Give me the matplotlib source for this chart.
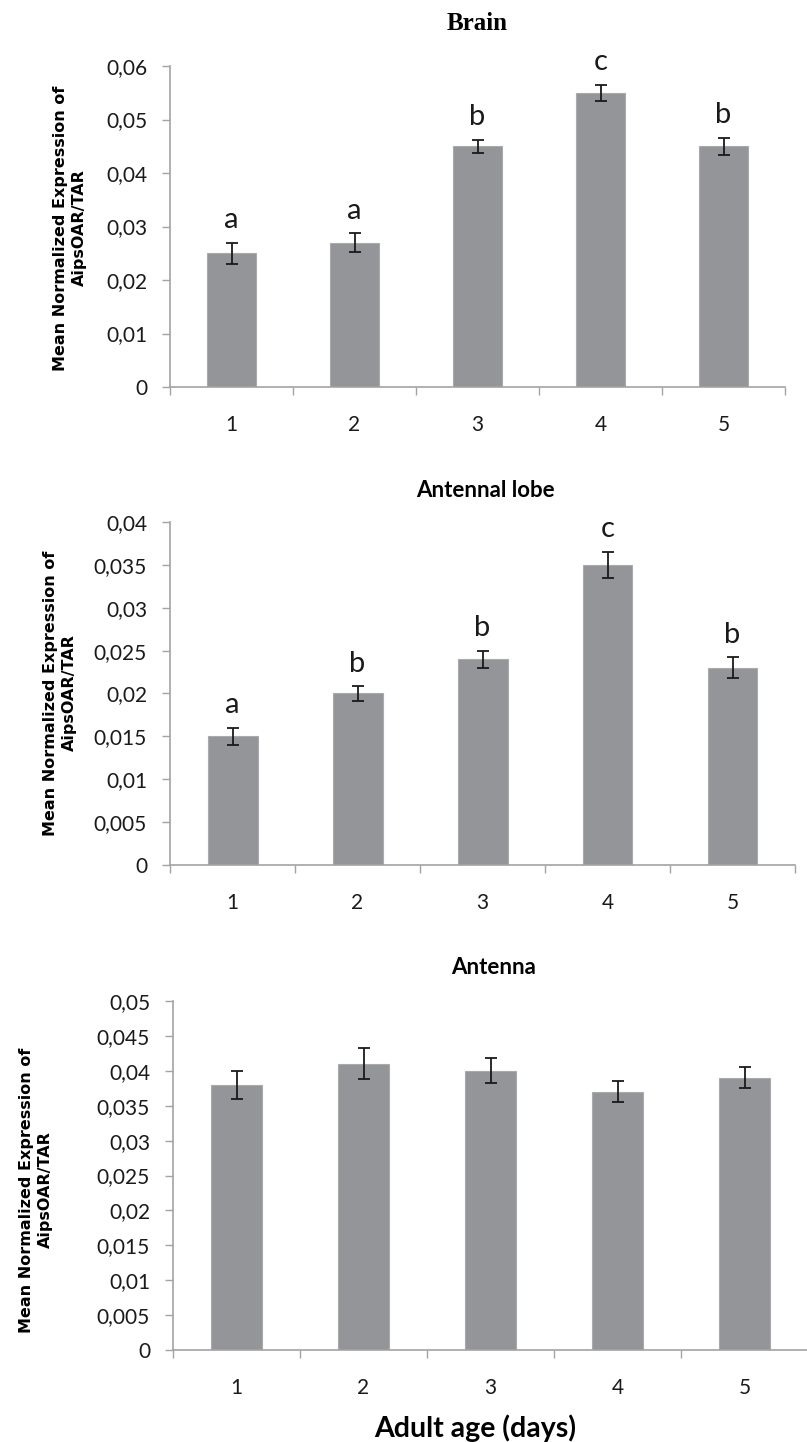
import matplotlib
matplotlib.use("Agg")
import matplotlib.pyplot as plt
from matplotlib.ticker import MultipleLocator, FuncFormatter

# data
days = [1, 2, 3, 4, 5]
day_labels = ["1", "2", "3", "4", "5"]

brain_mean = [0.025, 0.027, 0.045, 0.055, 0.045]
brain_err = [0.002, 0.0017, 0.0012, 0.0015, 0.0016]
brain_letters = ["a", "a", "b", "c", "b"]

lobe_mean = [0.015, 0.020, 0.024, 0.035, 0.023]
lobe_err = [0.001, 0.00085, 0.001, 0.0015, 0.0012]
lobe_letters = ["a", "b", "b", "c", "b"]

antenna_mean = [0.038, 0.041, 0.040, 0.037, 0.039]
antenna_err = [0.002, 0.0022, 0.0018, 0.0015, 0.0015]

ylabel_text = "Mean Normalized Expression of\nAipsOAR/TAR"

BAR_COLOR = "#939598"
AXIS_COLOR = "#a3a3a3"

W, H = 807, 1442
fig = plt.figure(figsize=(W / 100, H / 100), dpi=100)


def fig_rect(left, top, right, bottom):
    """Pixel box -> figure fraction [l, b, w, h]."""
    return [left / W, 1 - bottom / H, (right - left) / W, (bottom - top) / H]


def comma_fmt(v, pos):
    if abs(v) < 1e-12:
        return "0"
    return f"{v:g}".replace(".", ",")


def draw_panel(ax, means, errs, ymax, step, letters=None):
    ax.bar(days, means, width=0.4, color=BAR_COLOR, edgecolor="#a9aaac",
           linewidth=0.8, zorder=2)
    ax.errorbar(days, means, yerr=errs, fmt="none", ecolor="#1a1a1a",
                elinewidth=1.3, capsize=4, capthick=1.3, zorder=3)

    if letters:
        for x, m, e, lab in zip(days, means, errs, letters):
            ax.annotate(lab, (x, m + e), xytext=(0, 10.5), textcoords="offset points",
                        ha="center", va="baseline", fontsize=21, family="Lato",
                        color="#1a1a1a")

    ax.set_xlim(0.5, 5.5)
    ax.set_ylim(0, ymax)
    ax.yaxis.set_major_locator(MultipleLocator(step))
    ax.yaxis.set_major_formatter(FuncFormatter(comma_fmt))

    # ticks between categories, labels under the bars
    ax.set_xticks([0.5, 1.5, 2.5, 3.5, 4.5, 5.5])
    ax.set_xticklabels([])
    ax.set_xticks(days, minor=True)
    ax.set_xticklabels(day_labels, minor=True)
    ax.tick_params(axis="x", which="major", direction="out", length=5.5,
                   width=1, color=AXIS_COLOR)
    ax.tick_params(axis="x", which="minor", length=0, pad=20, labelsize=15)
    ax.tick_params(axis="y", direction="out", length=5.5, width=1,
                   color=AXIS_COLOR, pad=11, labelsize=15)
    for lab in ax.get_xticklabels(minor=True) + ax.get_yticklabels():
        lab.set_family("Lato")
        lab.set_color("#1a1a1a")

    for side in ["top", "right"]:
        ax.spines[side].set_visible(False)
    for side in ["left", "bottom"]:
        ax.spines[side].set_color(AXIS_COLOR)
        ax.spines[side].set_linewidth(1.2)


# Brain
ax1 = fig.add_axes(fig_rect(170, 66, 785, 387))
draw_panel(ax1, brain_mean, brain_err, 0.06, 0.01, brain_letters)
fig.text(477 / W, 1 - 24 / H, "Brain", ha="center", va="center",
         fontsize=18, fontweight="bold", family="Liberation Serif")
fig.text(70 / W, 1 - 228 / H, ylabel_text, rotation=90, ha="center", va="center",
         fontsize=11.5, fontweight="bold", family="DejaVu Sans",
         multialignment="center", linespacing=1.3)

# Antennal lobe
ax2 = fig.add_axes(fig_rect(170, 522, 795, 865))
draw_panel(ax2, lobe_mean, lobe_err, 0.04, 0.005, lobe_letters)
fig.text(485 / W, 1 - 490 / H, "Antennal lobe", ha="center", va="center",
         fontsize=16, fontweight="bold", family="Lato")
fig.text(60 / W, 1 - 693 / H, ylabel_text, rotation=90, ha="center", va="center",
         fontsize=11.5, fontweight="bold", family="DejaVu Sans",
         multialignment="center", linespacing=1.3)

# Antenna
ax3 = fig.add_axes(fig_rect(173, 1001, 808, 1350))
draw_panel(ax3, antenna_mean, antenna_err, 0.05, 0.005)
fig.text(494 / W, 1 - 968 / H, "Antenna", ha="center", va="center",
         fontsize=16, fontweight="bold", family="Lato")
fig.text(36 / W, 1 - 1190 / H, ylabel_text, rotation=90, ha="center", va="center",
         fontsize=11.5, fontweight="bold", family="DejaVu Sans",
         multialignment="center", linespacing=1.3)

fig.text(475 / W, 1 - 1437 / H, "Adult age (days)", ha="center", va="baseline",
         fontsize=20.5, fontweight="bold", family="Lato")

fig.savefig("out.png", dpi=100)
